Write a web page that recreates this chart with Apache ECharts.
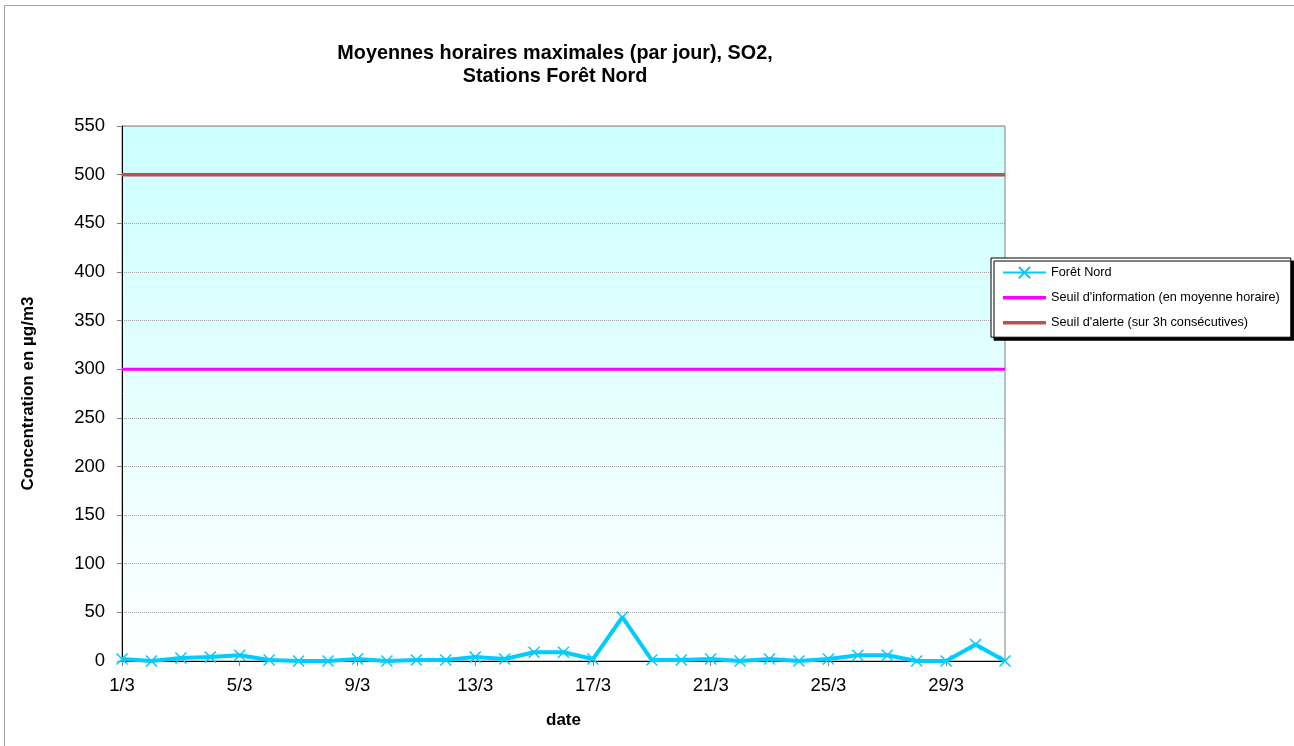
<!DOCTYPE html>
<html>
<head>
<meta charset="utf-8">
<script src="https://cdn.jsdelivr.net/npm/echarts@6/dist/echarts.min.js"></script>
<style>
html,body{margin:0;padding:0;background:#fff;}
#chart{width:1294px;height:746px;}
</style>
</head>
<body>
<div id="chart"></div>
<script>
const categories = ['1/3','2/3','3/3','4/3','5/3','6/3','7/3','8/3','9/3','10/3','11/3','12/3','13/3','14/3','15/3','16/3','17/3','18/3','19/3','20/3','21/3','22/3','23/3','24/3','25/3','26/3','27/3','28/3','29/3','30/3','31/3'];
const foretNord = [2,0,3,4,6,1,0,0,2,0,1,1,4,2,9,9,2,45,1,1,2,0,2,0,2,6,6,0,0,17,0];
const seuilInformation = 300;
const seuilAlerte = 500;
const yTicks = [0,50,100,150,200,250,300,350,400,450,500,550];

const FONT = '"Liberation Sans", Arial, sans-serif';
const LINE_ICON = 'path://M0,0H44V3.5H0Z';
const chart = echarts.init(document.getElementById('chart'));
chart.setOption({
  animation: false,
  backgroundColor: '#ffffff',
  textStyle: { fontFamily: FONT },
  title: {
    text: 'Moyennes horaires maximales (par jour), SO2,\nStations Forêt Nord',
    left: 550, top: 37.5, textAlign: 'center',
    textStyle: { fontFamily: FONT, fontSize: 19.8, fontWeight: 'bold', color: '#000', lineHeight: 23 }
  },
  graphic: [{
    type: 'rect', silent: true, z: -10,
    shape: { x: 4.5, y: 5.5, width: 1320, height: 800 },
    style: { fill: 'none', stroke: '#a0a0a0', lineWidth: 1 }
  }],
  legend: {
    orient: 'vertical', left: 991, top: 258,
    padding: [8, 11, 8, 11],
    itemWidth: 43, itemHeight: 14, itemGap: 12,
    backgroundColor: '#fff', borderColor: '#000', borderWidth: 1,
    shadowColor: '#000', shadowBlur: 0, shadowOffsetX: 3, shadowOffsetY: 3,
    textStyle: { fontFamily: FONT, fontSize: 12.7, color: '#000' },
    data: [
      'Forêt Nord',
      { name: "Seuil d'information (en moyenne horaire)", icon: LINE_ICON },
      { name: "Seuil d'alerte (sur 3h consécutives)", icon: LINE_ICON }
    ]
  },
  grid: {
    left: 122, top: 126, right: 289, bottom: 85, show: true,
    borderColor: '#808080', borderWidth: 1,
    backgroundColor: new echarts.graphic.LinearGradient(0, 0, 0, 1, [
      { offset: 0, color: '#ccffff' }, { offset: 1, color: '#ffffff' }
    ])
  },
  xAxis: {
    type: 'category', data: categories, boundaryGap: false,
    name: 'date', nameLocation: 'middle', nameGap: 51,
    nameTextStyle: { fontFamily: FONT, fontSize: 17, fontWeight: 'bold', color: '#000' },
    axisLine: { lineStyle: { color: '#000', width: 1 } },
    axisTick: { interval: 3, length: 5, lineStyle: { color: '#808080' } },
    axisLabel: { interval: 3, fontFamily: FONT, fontSize: 18.5, color: '#000', margin: 15 },
    splitLine: { show: false }
  },
  yAxis: {
    type: 'value', min: 0, max: 550, interval: 50,
    name: 'Concentration en µg/m3', nameLocation: 'middle', nameGap: 85, nameRotate: 90,
    nameTextStyle: { fontFamily: FONT, fontSize: 17, fontWeight: 'bold', color: '#000' },
    axisLine: { show: true, lineStyle: { color: '#000', width: 1 } },
    axisTick: { show: true, length: 5, lineStyle: { color: '#808080' } },
    axisLabel: { fontFamily: FONT, fontSize: 18.5, color: '#000', margin: 17,
      formatter: v => yTicks.includes(v) ? String(v) : '' },
    splitLine: { show: true, lineStyle: { color: '#a0a0a0', type: 'dotted', width: 1 } }
  },
  series: [
    {
      name: 'Forêt Nord', type: 'line', data: foretNord, z: 5,
      symbol: 'path://M0,0L10,10M10,0L0,10', symbolSize: 11, showSymbol: true,
      lineStyle: { color: '#00ccff', width: 4 },
      itemStyle: { color: '#00ccff', borderColor: '#00ccff', borderWidth: 1.5 }
    },
    {
      name: "Seuil d'information (en moyenne horaire)", type: 'line', symbol: 'none',
      data: categories.map(() => seuilInformation),
      lineStyle: { color: '#ff00ff', width: 3 }, itemStyle: { color: '#ff00ff' }
    },
    {
      name: "Seuil d'alerte (sur 3h consécutives)", type: 'line', symbol: 'none',
      data: categories.map(() => seuilAlerte),
      lineStyle: { color: '#c0504d', width: 3.5 }, itemStyle: { color: '#c0504d' }
    }
  ]
});
</script>
</body>
</html>
